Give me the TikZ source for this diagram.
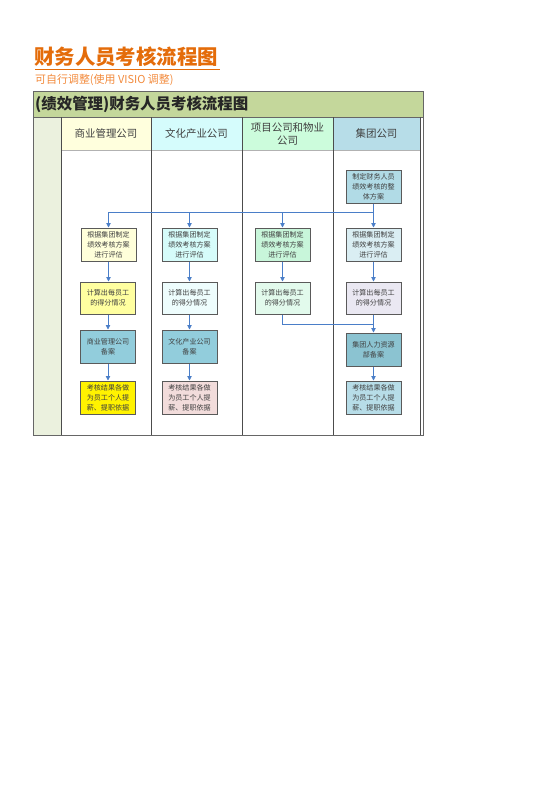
\documentclass[tikz,border=0pt]{standalone}
\usepackage{fontspec}
\setmainfont{Noto Sans CJK SC}
\newfontfamily\cjk{Noto Sans CJK SC}
\usetikzlibrary{arrows.meta}
\definecolor{ttlorange}{HTML}{E46C0A}
\definecolor{subor}{HTML}{F28A3C}
\definecolor{bandg}{HTML}{C4D79B}
\definecolor{leftg}{HTML}{EBF1DE}
\definecolor{h1}{HTML}{FFFFDD}
\definecolor{h2}{HTML}{D5FCFC}
\definecolor{h3}{HTML}{CCFCDC}
\definecolor{h4}{HTML}{B7DDE8}
\definecolor{arrblue}{HTML}{4A7EC8}
\definecolor{boxline}{HTML}{5A5A5A}
\definecolor{boxtext}{HTML}{404040}
\definecolor{teal}{HTML}{92CDDC}
\begin{document}
\begin{tikzpicture}[x=1bp,y=-1bp,
  box/.style={draw=boxline,line width=1bp,minimum width=55bp,minimum height=33bp,
    inner sep=1bp,align=center,font=\cjk\fontsize{7.1}{10}\selectfont,text=boxtext,anchor=center},
  arr/.style={draw=arrblue,line width=0.8bp,-{Triangle[width=4.5bp,length=4.5bp]}},
  ln/.style={draw=arrblue,line width=0.8bp},
  lanehd/.style={font=\cjk\fontsize{10.5}{13}\selectfont,text=boxtext,align=center,anchor=center}]
\useasboundingbox (0,0) rectangle (560,792);
% title
\node[anchor=west,inner sep=0,text=ttlorange,font=\cjk\bfseries\fontsize{20.5}{22}\selectfont] (title) at (34,57) {财务人员考核流程图};
\draw[ttlorange,line width=1.2bp] (35,69.5) -- (220,69.5);
\node[anchor=west,inner sep=0,text=subor,font=\cjk\fontsize{11}{13}\selectfont] (sub) at (35,79.5) {可自行调整(使用 VISIO 调整)};
% frame backgrounds
\fill[bandg] (33,91) rectangle (423,117);
\fill[leftg] (33,117) rectangle (61,435);
\fill[h1] (61,117) rectangle (151,150);
\fill[h2] (151,117) rectangle (242,150);
\fill[h3] (242,117) rectangle (333,150);
\fill[h4] (333,117) rectangle (420,150);
\fill[white] (61,150) rectangle (420,435);
% lines
\draw[gray!80!black,line width=1bp] (33,91) rectangle (423,435);
\draw[gray!80!black,line width=0.8bp] (33,117) -- (423,117);
\draw[gray!60,line width=0.6bp] (61,150) -- (420,150);
\draw[black!70,line width=0.9bp] (61,117) -- (61,435);
\draw[black!70,line width=0.9bp] (151,117) -- (151,435);
\draw[black!70,line width=0.9bp] (242,117) -- (242,435);
\draw[black!70,line width=0.9bp] (333,117) -- (333,435);
\draw[black!70,line width=0.9bp] (420,117) -- (420,435);
% headings
\node[anchor=west,inner sep=0,font=\cjk\bfseries\fontsize{15.5}{18}\selectfont,text=black!85] (hdr) at (35,104) {(绩效管理)财务人员考核流程图};
\node[lanehd] (l1) at (106,134) {商业管理公司};
\node[lanehd] (l2) at (196.5,134) {文化产业公司};
\node[lanehd] (l3) at (287.5,134) {项目公司和物业\\公司};
\node[lanehd] (l4) at (376.5,134) {集团公司};
% boxes
\node[box,fill=h4!85!teal] (top) at (373.5,186.5) {制定财务人员\\绩效考核的整\\体方案};
\node[box,fill={rgb,255:red,255;green,255;blue,218}] (b11) at (108.5,244.5) {根据集团制定\\绩效考核方案\\进行评估};
\node[box,fill={rgb,255:red,214;green,252;blue,250}] (b21) at (189.5,244.5) {根据集团制定\\绩效考核方案\\进行评估};
\node[box,fill={rgb,255:red,200;green,246;blue,218}] (b31) at (282.5,244.5) {根据集团制定\\绩效考核方案\\进行评估};
\node[box,fill={rgb,255:red,218;green,238;blue,243}] (b41) at (373.5,244.5) {根据集团制定\\绩效考核方案\\进行评估};
\node[box,minimum height=32bp,fill={rgb,255:red,255;green,255;blue,160}] (b12) at (108,298) {计算出每员工\\的得分情况};
\node[box,minimum height=32bp,fill={rgb,255:red,238;green,253;blue,253}] (b22) at (189.5,298) {计算出每员工\\的得分情况};
\node[box,minimum height=32bp,fill={rgb,255:red,226;green,250;blue,236}] (b32) at (282.5,298) {计算出每员工\\的得分情况};
\node[box,minimum height=32bp,fill={rgb,255:red,234;green,232;blue,242}] (b42) at (373.5,298) {计算出每员工\\的得分情况};
\node[box,fill=teal] (b13) at (108,346.5) {商业管理公司\\备案};
\node[box,fill=teal] (b23) at (189.5,346.5) {文化产业公司\\备案};
\node[box,fill=teal!95!black] (b43) at (373.5,349.5) {集团人力资源\\部备案};
\node[box,fill=yellow] (b14) at (108,397.5) {考核结果各做\\为员工个人提\\薪、提职依据};
\node[box,fill={rgb,255:red,242;green,220;blue,219}] (b24) at (189.5,397.5) {考核结果各做\\为员工个人提\\薪、提职依据};
\node[box,fill=h4] (b44) at (373.5,397.5) {考核结果各做\\为员工个人提\\薪、提职依据};
% connectors
\coordinate (split) at (373.5,212);
\draw[arr] (top) -- (b41);
\draw[arr] (split) -| (b11.north);
\draw[arr] (split) -| (b21.north);
\draw[arr] (split) -| (b31.north);
\draw[arr] (b11.south) -- (b11.south |- b12.north);
\draw[arr] (b21) -- (b22);
\draw[arr] (b31) -- (b32);
\draw[arr] (b41) -- (b42);
\draw[arr] (b12) -- (b13);
\draw[arr] (b22) -- (b23);
\draw[arr] (b13) -- (b14);
\draw[arr] (b23) -- (b24);
\coordinate (join) at (373.5,324);
\draw[ln] (b32.south) |- (join);
\draw[arr] (b42) -- (b43);
\draw[arr] (b43) -- (b44);
\end{tikzpicture}
\end{document}
